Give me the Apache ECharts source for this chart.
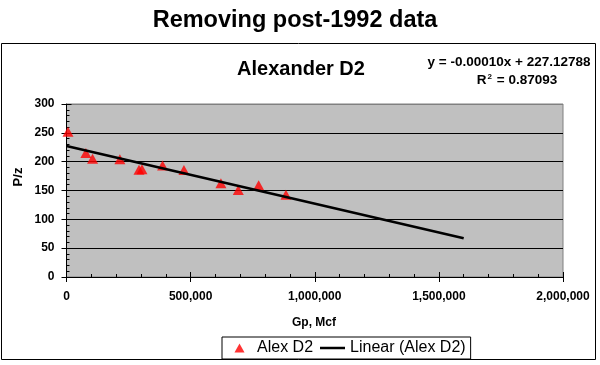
<!DOCTYPE html>
<html>
<head>
<meta charset="utf-8">
<script src="https://cdn.jsdelivr.net/npm/echarts@6/dist/echarts.min.js"></script>
<style>
html,body{margin:0;padding:0;background:#fff;}
#chart{width:600px;height:365px;}
</style>
</head>
<body>
<div id="chart"></div>
<script>
// ---- data ----
var gpValues = [6000, 78000, 105000, 215000, 292000, 304000, 387000, 473000, 622000, 692000, 774000, 884000];
var pzValues = [252, 215, 205, 204, 186, 187, 193.5, 185.5, 162.5, 151, 159, 142.5];
var trendGp = [0, 1600000];
var trendPz = [227.12788, 67.12788];
var xTicks = [0, 500000, 1000000, 1500000, 2000000];
var yTicks = [0, 50, 100, 150, 200, 250, 300];
var seriesNames = ['Alex D2', 'Linear (Alex D2)'];
var mainTitle = 'Removing post-1992 data';
var subTitle = 'Alexander D2';
var eqLine1 = 'y = -0.00010x + 227.12788';
var eqLine2 = '0.87093';
var xName = 'Gp, Mcf';
var yName = 'P/z';

var FONT = "'Liberation Sans', Arial, sans-serif";
var chart = echarts.init(document.getElementById('chart'), null, {renderer: 'canvas'});

var scatterData = gpValues.map(function (g, i) { return [g, pzValues[i]]; });
var trendData = trendGp.map(function (g, i) { return [g, trendPz[i]]; });

function fmt(v) { return Number(v).toLocaleString('en-US'); }

var xMin = xTicks[0], xMax = xTicks[xTicks.length - 1], xInt = xTicks[1] - xTicks[0];
var yMin = yTicks[0], yMax = yTicks[yTicks.length - 1], yInt = yTicks[1] - yTicks[0];

var splitColors = yTicks.map(function (t, i) { return i === yTicks.length - 1 ? '#808080' : '#000'; });

var option = {
  animation: false,
  backgroundColor: '#fff',
  textStyle: {fontFamily: FONT},
  grid: {
    left: 66.5, right: 37, top: 104, bottom: 88,
    show: true, backgroundColor: '#C0C0C0', borderColor: '#808080', borderWidth: 1
  },
  legend: {
    left: 222, top: 337,
    padding: [3, 5],
    itemGap: 7,
    itemWidth: 25, itemHeight: 10,
    borderColor: '#000', borderWidth: 1, backgroundColor: '#fff',
    textStyle: {fontFamily: FONT, fontSize: 16, color: '#000'},
    data: [
      {name: seriesNames[0], icon: 'path://M0,0 M25,10 M12.5,0.5 L17.5,9.5 L7.5,9.5 Z', itemStyle: {color: '#FF0000'}},
      {name: seriesNames[1], icon: 'path://M0,0 L25,0 L25,2.5 L0,2.5 Z', itemStyle: {color: '#000'}}
    ]
  },
  xAxis: [{
    type: 'value', min: xMin, max: xMax, interval: xInt, position: 'bottom',
    axisLine: {show: true, lineStyle: {color: '#000', width: 1}},
    axisTick: {show: true, length: 5, inside: false, lineStyle: {color: '#000'}},
    axisLabel: {show: true, margin: 14, color: '#000', fontWeight: 'bold', fontSize: 12, fontFamily: FONT, formatter: fmt},
    splitLine: {show: false}
  }, {
    type: 'value', min: xMin, max: xMax, interval: xInt, position: 'bottom',
    axisLine: {show: false},
    axisTick: {show: true, length: 5, inside: true, lineStyle: {color: '#000'}},
    minorTick: {show: true, splitNumber: 5, length: 3, lineStyle: {color: '#000'}},
    axisLabel: {show: false},
    splitLine: {show: false}
  }],
  yAxis: [{
    type: 'value', min: yMin, max: yMax, interval: yInt, position: 'left',
    axisLine: {show: true, lineStyle: {color: '#000', width: 1}},
    axisTick: {show: true, length: 5, inside: false, lineStyle: {color: '#000'}},
    axisLabel: {show: true, margin: 12, color: '#000', fontWeight: 'bold', fontSize: 12, fontFamily: FONT},
    splitLine: {show: true, lineStyle: {color: splitColors, width: 1}}
  }, {
    type: 'value', min: yMin, max: yMax, interval: yInt, position: 'left',
    axisLine: {show: false},
    axisTick: {show: true, length: 5, inside: true, lineStyle: {color: '#000'}},
    minorTick: {show: true, splitNumber: 5, length: 3, lineStyle: {color: '#000'}},
    axisLabel: {show: false},
    splitLine: {show: false}
  }],
  series: [{
    name: seriesNames[0],
    type: 'scatter',
    xAxisIndex: 0, yAxisIndex: 0,
    symbol: 'triangle',
    symbolSize: [11, 10],
    itemStyle: {color: '#FF0000'},
    data: scatterData,
    z: 3
  }, {
    name: seriesNames[1],
    type: 'line',
    xAxisIndex: 0, yAxisIndex: 0,
    symbol: 'none',
    lineStyle: {color: '#000', width: 2.5},
    itemStyle: {color: '#000'},
    data: trendData,
    z: 4
  }],
  graphic: [
    {type: 'rect', shape: {x: 1.5, y: 43.5, width: 594, height: 316}, style: {fill: null, stroke: '#000', lineWidth: 1}, z: -1, silent: true},
    {type: 'text', x: 295, y: 21, style: {text: mainTitle, font: 'bold 23.5px ' + FONT, fill: '#000', align: 'center', verticalAlign: 'middle'}},
    {type: 'text', x: 301, y: 69, style: {text: subTitle, font: 'bold 20px ' + FONT, fill: '#000', align: 'center', verticalAlign: 'middle'}},
    {type: 'text', x: 509, y: 62, style: {text: eqLine1, font: 'bold 13.5px ' + FONT, fill: '#000', align: 'center', verticalAlign: 'middle'}},
    {type: 'text', x: 517, y: 80, style: {
      text: '{r|R}{s|2}{r| = ' + eqLine2 + '}',
      align: 'center', verticalAlign: 'middle',
      rich: {
        r: {font: 'bold 13.5px ' + FONT, fill: '#000', color: '#000'},
        s: {font: 'bold 8px ' + FONT, fill: '#000', color: '#000', verticalAlign: 'top', padding: [0, 1, 6, 1]}
      }
    }},
    {type: 'text', x: 314, y: 323, style: {text: xName, font: 'bold 12px ' + FONT, fill: '#000', align: 'center', verticalAlign: 'middle'}},
    {type: 'text', x: 18, y: 177, rotation: Math.PI / 2, style: {text: yName, font: 'bold 13px ' + FONT, fill: '#000', align: 'center', verticalAlign: 'middle'}}
  ]
};
chart.setOption(option);
</script>
</body>
</html>
